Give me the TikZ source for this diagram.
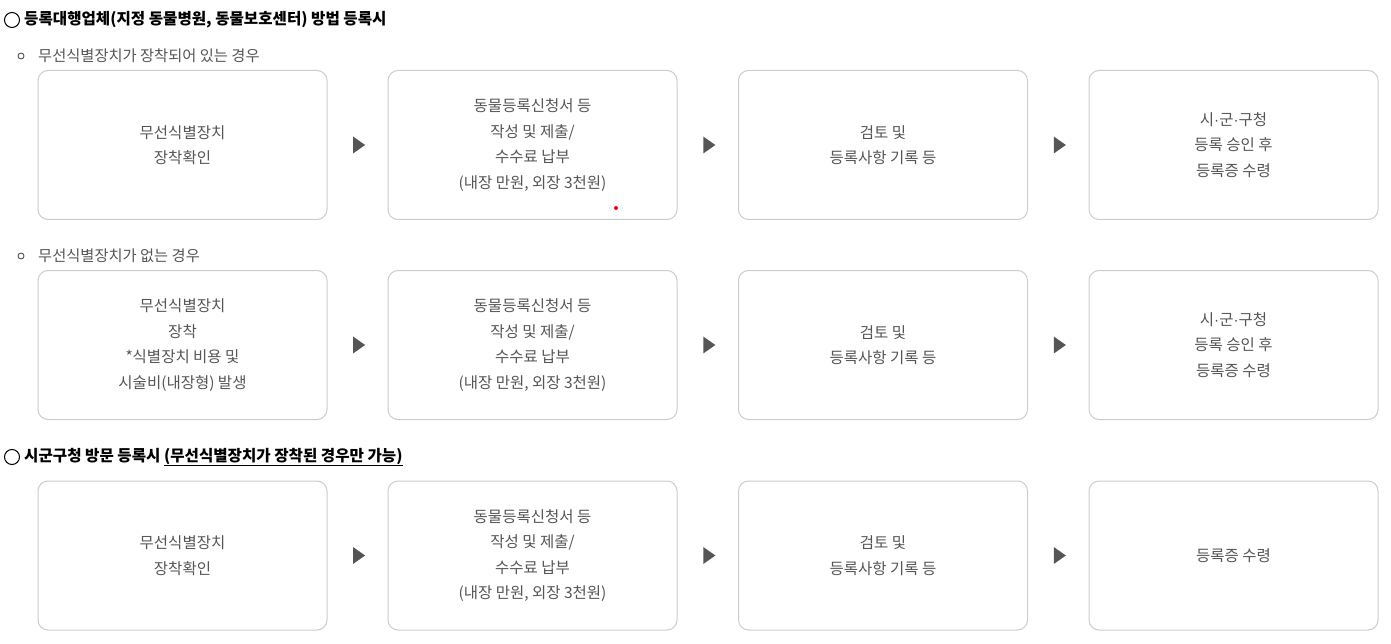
\documentclass[tikz,border=0pt]{standalone}
\usepackage{fontspec}
\setmainfont{Noto Sans CJK KR}
\newfontfamily\latinf{Liberation Sans}
\usetikzlibrary{shapes.geometric}
\definecolor{txt}{HTML}{555555}
\definecolor{bord}{HTML}{CCCCCC}
\definecolor{arr}{HTML}{555555}
\newcommand{\mdot}{{\latinf ·}}
\tikzset{
  stepbox/.style={draw=bord, line width=1pt, rounded corners=10pt, minimum width=289pt, minimum height=149pt, inner sep=0pt, text=txt, font=\fontsize{15.5}{25.5}\selectfont, align=center},
  tri/.style={isosceles triangle, isosceles triangle apex angle=70, fill=arr, inner sep=0pt, minimum height=12pt, minimum width=13pt},
  head/.style={anchor=west, inner sep=0pt, font=\fontsize{15.6}{18}\selectfont\bfseries, text=black},
  sub/.style={anchor=west, inner sep=0pt, font=\fontsize{15.3}{16}\selectfont, text=txt},
  bigdot/.style={circle, draw=black, line width=1pt, minimum size=15pt, inner sep=0pt},
  smalldot/.style={circle, draw=txt, line width=0.9pt, minimum size=6pt, inner sep=0pt},
}
\begin{document}
\begin{tikzpicture}[x=1pt, y=-1pt]
\useasboundingbox (0,0) rectangle (1391,644);
% headers
\node[bigdot] (hc1) at (12,20) {};
\node[head] (h1) at (24,20) {등록대행업체(지정 동물병원, 동물보호센터) 방법 등록시};
\node[smalldot] (sc1) at (21,56) {};
\node[sub] (s1) at (38,56) {무선식별장치가 장착되어 있는 경우};
\node[smalldot] (sc2) at (21,256) {};
\node[sub] (s2) at (38,256) {무선식별장치가 없는 경우};
\node[bigdot] (hc3) at (12,457) {};
\node[head] (h3) at (24,457) {시군구청 방문 등록시 \underline{(무선식별장치가 장착된 경우만 가능)}};
% row 1
\node[stepbox] (a1) at (182.5,145) {무선식별장치\\장착확인};
\node[stepbox] (a2) at (532.5,145) {동물등록신청서 등\\작성 및 제출/\\수수료 납부\\(내장 만원, 외장 3천원)};
\node[stepbox] (a3) at (883,145) {검토 및\\등록사항 기록 등};
\node[stepbox] (a4) at (1233.5,145) {시\mdot 군\mdot 구청\\등록 승인 후\\등록증 수령};
% row 2
\node[stepbox] (b1) at (182.5,345) {무선식별장치\\장착\\*식별장치 비용 및\\시술비(내장형) 발생};
\node[stepbox] (b2) at (532.5,345) {동물등록신청서 등\\작성 및 제출/\\수수료 납부\\(내장 만원, 외장 3천원)};
\node[stepbox] (b3) at (883,345) {검토 및\\등록사항 기록 등};
\node[stepbox] (b4) at (1233.5,345) {시\mdot 군\mdot 구청\\등록 승인 후\\등록증 수령};
% row 3
\node[stepbox] (c1) at (182.5,555.5) {무선식별장치\\장착확인};
\node[stepbox] (c2) at (532.5,555.5) {동물등록신청서 등\\작성 및 제출/\\수수료 납부\\(내장 만원, 외장 3천원)};
\node[stepbox] (c3) at (883,555.5) {검토 및\\등록사항 기록 등};
\node[stepbox] (c4) at (1233.5,555.5) {등록증 수령};
% arrows
\foreach \r in {a,b,c}{
  \path (\r1.east) -- (\r2.west) node[tri, pos=0.5] {};
  \path (\r2.east) -- (\r3.west) node[tri, pos=0.5] {};
  \path (\r3.east) -- (\r4.west) node[tri, pos=0.5] {};
}
% red dot
\fill[red] (616,208) circle (2pt);
\end{tikzpicture}
\end{document}
